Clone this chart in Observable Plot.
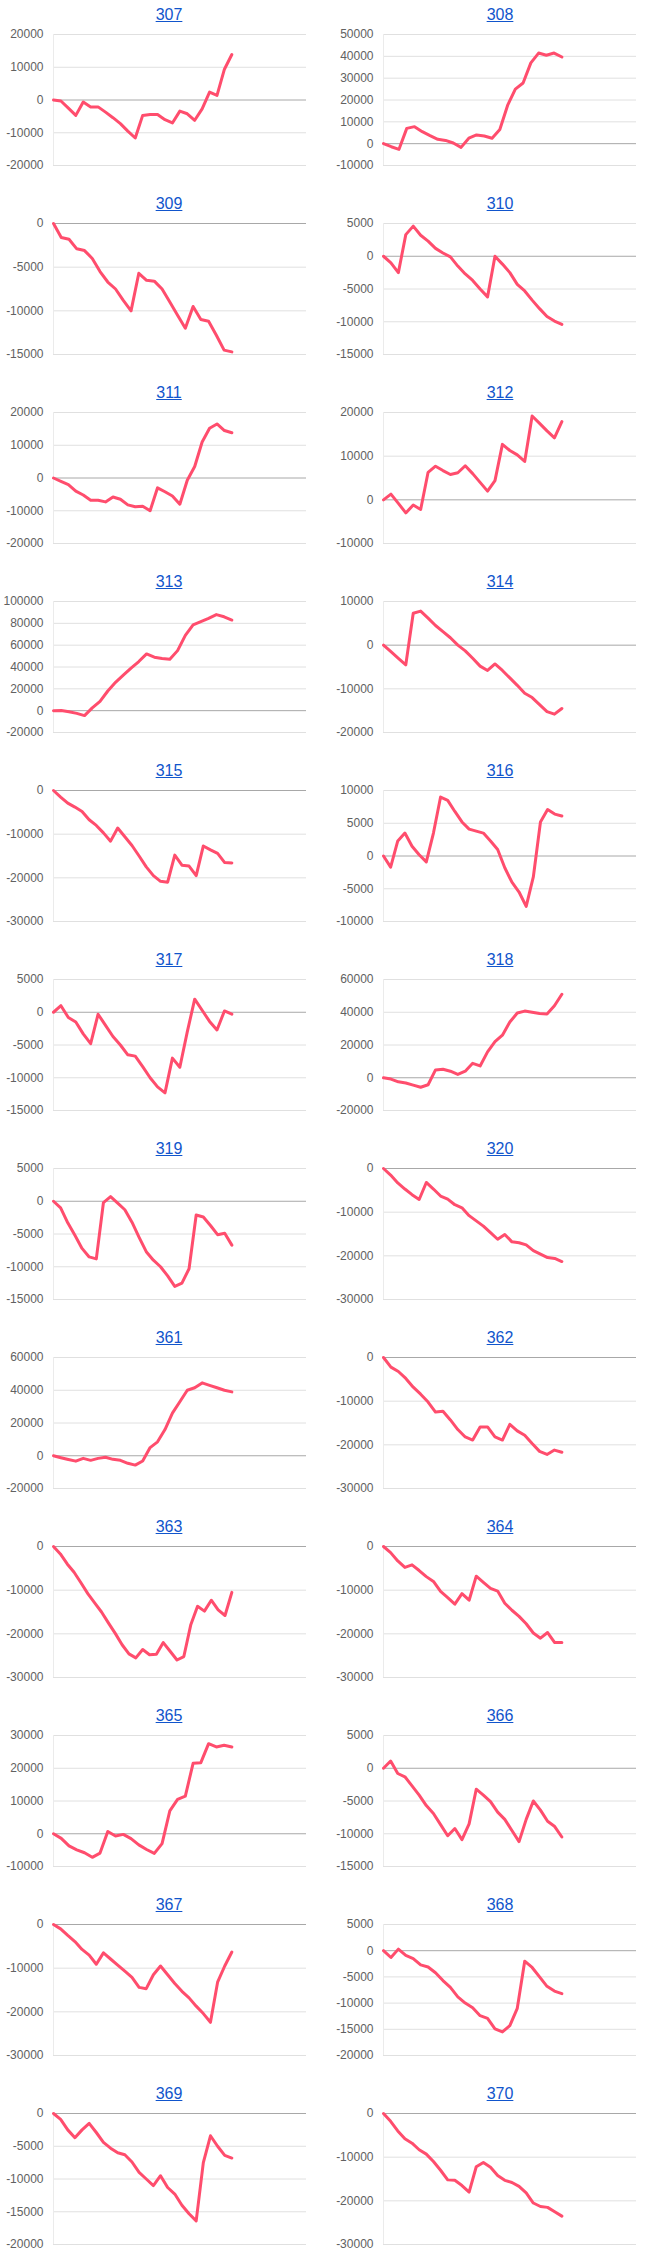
<!DOCTYPE html>
<html><head><meta charset="utf-8">
<script src="https://cdn.jsdelivr.net/npm/d3@7"></script>
<script src="https://cdn.jsdelivr.net/npm/@observablehq/plot@0.6"></script>
<style>
html,body{margin:0;padding:0;background:#fff;overflow:hidden;width:646px;height:2256px;}
#grid{display:grid;grid-template-columns:323px 323px;grid-auto-rows:189px;}
.cell{position:relative;width:323px;height:189px;}
.title{position:absolute;top:7px;font:16px Arial,"Liberation Sans",sans-serif;color:#1155cc;text-decoration:underline;transform:translateX(-50%);line-height:16px;white-space:nowrap;}
.cell svg{position:absolute;left:0;top:0;}
</style></head><body><div id="grid"></div>
<script>
const panelIds = ["307","308","309","310","311","312","313","314","315","316","317","318","319","320","361","362","363","364","365","366","367","368","369","370"];

const s307 = [0,-300,-2500,-4700,-600,-2100,-2100,-3700,-5400,-7200,-9500,-11600,-4700,-4400,-4400,-6000,-7000,-3400,-4200,-6200,-2700,2400,1400,9400,13900];
const s308 = [0,-1400,-2600,7000,7800,5500,3700,2000,1500,300,-1700,2500,4000,3500,2500,6500,17500,25000,27800,37000,41500,40500,41500,39700];
const s309 = [0,-1600,-1800,-2900,-3100,-4000,-5500,-6700,-7500,-8800,-10000,-5700,-6500,-6600,-7500,-9000,-10500,-12000,-9500,-11000,-11200,-12800,-14500,-14700];
const s310 = [0,-1000,-2500,3300,4600,3200,2300,1200,500,-100,-1500,-2700,-3700,-5000,-6200,0,-1200,-2500,-4300,-5300,-6700,-8000,-9200,-9900,-10400];
const s311 = [0,-1000,-2000,-4000,-5200,-6800,-6800,-7300,-5800,-6500,-8200,-8800,-8600,-10000,-3000,-4200,-5500,-8000,-700,3500,11000,15200,16500,14500,13800];
const s312 = [0,1300,-800,-3000,-1200,-2200,6300,7700,6700,5800,6200,7800,6000,4000,2000,4400,12700,11300,10300,8800,19200,17500,15800,14200,17900];
const s313 = [0,200,-1000,-2500,-4500,2500,8500,18000,26000,32500,39000,45000,52000,49000,47800,47000,55000,69000,78500,81500,84500,88000,86000,83000];
const s314 = [0,-1500,-3000,-4500,7300,7800,6200,4500,3100,1700,0,-1300,-3000,-4800,-5800,-4300,-5800,-7500,-9200,-11000,-12000,-13600,-15200,-15800,-14500];
const s315 = [0,-1500,-2900,-3800,-4800,-6700,-8000,-9700,-11600,-8600,-10600,-12600,-15000,-17500,-19500,-20800,-21000,-14800,-17100,-17300,-19500,-12700,-13600,-14400,-16500,-16600];
const s316 = [0,-1700,2300,3500,1500,200,-900,3500,9000,8500,6800,5200,4100,3800,3500,2300,1000,-1800,-4000,-5500,-7700,-3200,5200,7100,6400,6100];
const s317 = [0,1000,-800,-1500,-3300,-4800,-300,-2000,-3700,-5000,-6500,-6700,-8300,-10000,-11400,-12300,-7000,-8400,-3000,2000,300,-1400,-2700,200,-300];
const s318 = [0,-800,-2500,-3200,-4500,-5800,-4300,4800,5200,4000,2000,4000,8800,7200,15800,22000,26000,34000,39500,40700,40000,39300,39000,44000,51000];
const s319 = [0,-1000,-3300,-5200,-7200,-8500,-8800,-200,700,-300,-1300,-3200,-5500,-7700,-9000,-10000,-11400,-13000,-12500,-10300,-2100,-2400,-3700,-5100,-4900,-6700];
const s320 = [0,-1500,-3300,-4700,-6000,-7100,-3200,-4700,-6300,-7000,-8300,-9000,-10800,-12000,-13200,-14700,-16200,-15100,-16800,-17000,-17500,-18800,-19600,-20400,-20600,-21300];
const s361 = [0,-1200,-2300,-3300,-1600,-2800,-1600,-900,-2200,-2800,-4600,-5700,-3200,5000,8500,16000,26000,33000,40000,41500,44500,43000,41500,40000,39000];
const s362 = [0,-2200,-3200,-4800,-6800,-8400,-10200,-12500,-12300,-14300,-16500,-18200,-18900,-15900,-15900,-18200,-18900,-15300,-16800,-17800,-19700,-21500,-22200,-21200,-21700];
const s363 = [0,-1700,-4000,-5900,-8300,-10800,-12900,-15000,-17500,-19900,-22500,-24600,-25500,-23600,-24800,-24700,-22000,-24000,-26000,-25200,-18000,-13700,-14800,-12300,-14500,-15800,-10500];
const s364 = [0,-1400,-3300,-4800,-4200,-5500,-6900,-8000,-10300,-11700,-13200,-10800,-12300,-6800,-8200,-9600,-10200,-13000,-14600,-16000,-17700,-19800,-21000,-19700,-22000,-22000];
const s365 = [0,-1400,-3700,-4900,-5800,-7200,-5900,700,-700,-200,-1500,-3400,-4800,-6000,-3000,7000,10500,11500,21500,21700,27500,26500,27000,26500];
const s366 = [0,1100,-800,-1300,-2700,-4100,-5700,-6900,-8600,-10300,-9200,-10900,-8500,-3200,-4100,-5100,-6700,-7800,-9500,-11200,-7800,-5000,-6400,-8100,-8900,-10500];
const s367 = [0,-1000,-2500,-3900,-5700,-7000,-9100,-6500,-7900,-9300,-10700,-12100,-14400,-14700,-11500,-9500,-11500,-13500,-15300,-16800,-18700,-20400,-22400,-13200,-9500,-6300];
const s368 = [0,-1300,300,-900,-1500,-2700,-3100,-4200,-5700,-7000,-8800,-10000,-10900,-12400,-12900,-14900,-15500,-14300,-11000,-2000,-3200,-5000,-6800,-7700,-8200];
const s369 = [0,-900,-2500,-3700,-2500,-1500,-2900,-4400,-5300,-6000,-6300,-7400,-9000,-10000,-11000,-9500,-11300,-12300,-14000,-15300,-16400,-7500,-3400,-5000,-6400,-6800];
const s370 = [0,-1800,-4000,-5800,-6800,-8300,-9300,-11000,-13000,-15200,-15300,-16500,-18000,-12200,-11200,-12300,-14200,-15300,-15800,-16700,-18200,-20500,-21300,-21500,-22500,-23500];

const t307 = [-20000,-10000,0,10000,20000];
const t308 = [-10000,0,10000,20000,30000,40000,50000];
const t309 = [-15000,-10000,-5000,0];
const t310 = [-15000,-10000,-5000,0,5000];
const t311 = [-20000,-10000,0,10000,20000];
const t312 = [-10000,0,10000,20000];
const t313 = [-20000,0,20000,40000,60000,80000,100000];
const t314 = [-20000,-10000,0,10000];
const t315 = [-30000,-20000,-10000,0];
const t316 = [-10000,-5000,0,5000,10000];
const t317 = [-15000,-10000,-5000,0,5000];
const t318 = [-20000,0,20000,40000,60000];
const t319 = [-15000,-10000,-5000,0,5000];
const t320 = [-30000,-20000,-10000,0];
const t361 = [-20000,0,20000,40000,60000];
const t362 = [-30000,-20000,-10000,0];
const t363 = [-30000,-20000,-10000,0];
const t364 = [-30000,-20000,-10000,0];
const t365 = [-10000,0,10000,20000,30000];
const t366 = [-15000,-10000,-5000,0,5000];
const t367 = [-30000,-20000,-10000,0];
const t368 = [-20000,-15000,-10000,-5000,0,5000];
const t369 = [-20000,-15000,-10000,-5000,0];
const t370 = [-30000,-20000,-10000,0];

const seriesList = [s307,s308,s309,s310,s311,s312,s313,s314,s315,s316,s317,s318,s319,s320,s361,s362,s363,s364,s365,s366,s367,s368,s369,s370];
const tickList = [t307,t308,t309,t310,t311,t312,t313,t314,t315,t316,t317,t318,t319,t320,t361,t362,t363,t364,t365,t366,t367,t368,t369,t370];

const FILL = 0.705; // share of the plot width spanned by the data
const grid = document.getElementById("grid");

panelIds.forEach((id, k) => {
  const col = k % 2;
  const values = seriesList[k];
  const ticks = tickList[k];
  const data = values.map((v, i) => ({i, v}));
  const n = values.length;
  const ml = col === 0 ? 53 : 60, mr = col === 0 ? 17 : 10;
  const cell = document.createElement("div");
  cell.className = "cell";
  const chart = Plot.plot({
    width: 323, height: 189,
    marginTop: 34, marginBottom: 24, marginLeft: ml, marginRight: mr,
    x: {domain: [0, (n - 1) / FILL], axis: null},
    y: {domain: [ticks[0], ticks[ticks.length - 1]], axis: null},
    style: {background: "transparent", fontFamily: "Arial, 'Liberation Sans', sans-serif", overflow: "visible"},
    marks: [
      Plot.ruleY(ticks.filter(t => t !== 0), {stroke: "#e0e0e0", strokeWidth: 1}),
      Plot.ruleX([0], {stroke: "#ebebeb"}),
      Plot.ruleY([0], {stroke: "#a8a8a8"}),
      Plot.axisY(ticks, {tickSize: 0, tickPadding: 10, fontSize: 12, fill: "#616161", label: null, tickFormat: d => String(d)}),
      Plot.line(data, {x: "i", y: "v", stroke: "#ff4d6d", strokeWidth: 3, strokeLinejoin: "round"})
    ]
  });
  cell.appendChild(chart);
  const title = document.createElement("div");
  title.className = "title";
  title.style.left = (col === 0 ? 169 : 177) + "px";
  title.textContent = id;
  cell.appendChild(title);
  grid.appendChild(cell);
});
</script>
</body></html>
